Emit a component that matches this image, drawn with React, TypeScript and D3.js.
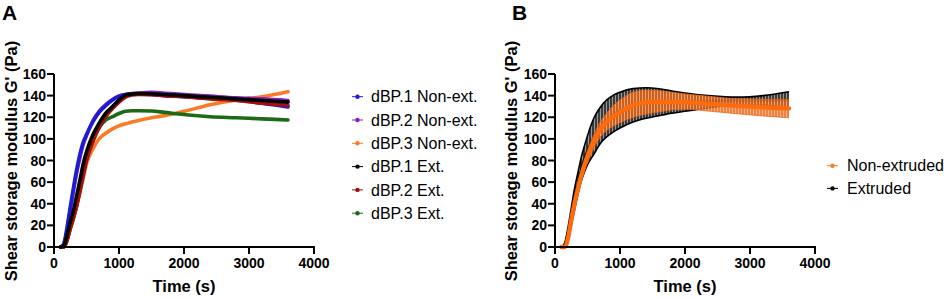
import React from "react";
import * as d3 from "d3";

// ---------- Panel A data ----------
const tA = [100, 150, 200, 250, 300, 350, 400, 450, 500, 600, 700, 800, 900, 1000, 1100, 1200, 1300, 1500, 1700, 2000, 2400, 2800, 3200, 3600];
const dbp1Non = [0, 3, 18, 37, 55, 72, 86, 97, 104, 116, 125, 131, 136, 139.5, 141, 141.5, 141.5, 141, 140, 139, 137.5, 136, 133, 129.5];
const dbp2Non = [0, 2, 15, 34, 52, 69, 83, 95, 103, 117, 126, 132, 136.5, 139.5, 141, 142, 142.5, 143, 142.2, 141, 139.5, 138, 137, 135.5];
const dbp3Non = [0, 0, 6, 17, 27, 38, 51, 64, 77, 91, 100.5, 105.5, 109.3, 112, 114, 115.5, 117, 119.5, 121.5, 125.5, 131.5, 136, 139, 143.6];
const dbp1Ext = [0, 1, 11, 23, 34, 48, 62, 77, 88, 104, 115, 124, 130, 136, 140.5, 141.5, 142, 141.8, 141, 140, 138.5, 137, 135.5, 134];
const dbp2Ext = [0, 0, 6, 17, 27, 38, 52, 66, 80, 98, 111, 121, 128, 134, 138.5, 140.5, 141, 140.8, 140, 139, 137, 135.5, 133, 131];
const dbp3Ext = [0, 0, 6, 17, 27, 39, 53, 68, 81, 98, 111, 117.5, 120.5, 123.5, 125.5, 126, 126, 125.8, 124.5, 122.5, 120.5, 119.5, 118.5, 117.5];

const seriesA = [
  { name: "dBP.1 Non-ext.", values: dbp1Non, color: "#1c1cd6" },
  { name: "dBP.2 Non-ext.", values: dbp2Non, color: "#8420c0" },
  { name: "dBP.3 Non-ext.", values: dbp3Non, color: "#fb7a26" },
  { name: "dBP.1 Ext.", values: dbp1Ext, color: "#000000" },
  { name: "dBP.2 Ext.", values: dbp2Ext, color: "#a50f0f" },
  { name: "dBP.3 Ext.", values: dbp3Ext, color: "#1d6a16" },
];
const drawOrderA = [2, 5, 1, 0, 4, 3];

// ---------- Panel B data ----------
const tB = [100, 150, 200, 250, 300, 350, 400, 450, 500, 600, 700, 800, 900, 1000, 1200, 1400, 1600, 1800, 2000, 2400, 2800, 3200, 3600];
const darkMean = [0, 2, 12, 28, 44, 58, 71, 81, 89, 102, 112, 118, 123, 126.5, 131, 133, 134, 134.4, 134.4, 135, 135.5, 135.5, 136];
const darkUpper = [0, 4, 18, 36, 54, 68, 82, 93, 103, 119.5, 129.5, 136.3, 140.5, 143.2, 146.5, 147.3, 146.4, 144.3, 142.5, 139.8, 138.6, 140, 143.6];
const darkLower = [0, 0, 6, 20, 34, 48, 60, 69, 76, 86, 96, 102, 106.5, 110, 115.5, 119, 121.5, 123.8, 125.5, 129, 131.5, 131, 128.5];
const orangeMean = [0, 0, 8, 25, 40, 53, 65, 75, 83.5, 98, 109, 116, 121, 125, 131, 133.8, 134.4, 134.2, 134, 132.2, 130.5, 129.2, 128.2];
const orangeUpper = [0, 0, 10, 28, 44, 58, 70, 80, 89, 104, 116, 124, 131, 136, 143, 145, 144.5, 143, 141.5, 139.2, 137, 136.6, 136.6];
const orangeLower = [0, 0, 6, 22, 36, 48, 60, 70, 78, 92, 102, 108, 112, 115, 120, 123, 125, 127, 127.5, 125.5, 123.3, 121.2, 119.5];

const legendB = [
  { name: "Non-extruded", color: "#fb7a26" },
  { name: "Extruded", color: "#000000" },
];

const xTicks = [0, 1000, 2000, 3000, 4000];
const yTicks = [0, 20, 40, 60, 80, 100, 120, 140, 160];

const FONT = "'Liberation Sans', Arial, sans-serif";

function Axes({ x, y, ox }: { x: d3.ScaleLinear<number, number>; y: d3.ScaleLinear<number, number>; ox: number }) {
  const x0 = x(0);
  const y0 = y(0);
  return (
    <g fontFamily={FONT} fontWeight="bold" fill="#000">
      <line x1={x0} x2={x0} y1={y(160)} y2={y0 + 1} stroke="#000" strokeWidth={2} />
      <line x1={x0 - 1} x2={x(4000) + 1} y1={y0} y2={y0} stroke="#000" strokeWidth={2} />
      {yTicks.map((v) => (
        <g key={"y" + v}>
          <line x1={x0 - 7} x2={x0} y1={y(v)} y2={y(v)} stroke="#000" strokeWidth={2} />
          <text x={x0 - 8} y={y(v)} dy="0.36em" textAnchor="end" fontSize={14}>{v}</text>
        </g>
      ))}
      {xTicks.map((v) => (
        <g key={"x" + v}>
          <line x1={x(v)} x2={x(v)} y1={y0} y2={y0 + 7} stroke="#000" strokeWidth={2} />
          <text x={x(v)} y={y0 + 21} textAnchor="middle" fontSize={14}>{v}</text>
        </g>
      ))}
      <text x={(x0 + x(4000)) / 2} y={292} textAnchor="middle" fontSize={16.5}>Time (s)</text>
      <text transform={`translate(${ox},161) rotate(-90)`} textAnchor="middle" dy="0.36em" fontSize={16.5}>
        Shear storage modulus G' (Pa)
      </text>
    </g>
  );
}

export default function App() {
  const xA = d3.scaleLinear().domain([0, 4000]).range([54, 314]);
  const yS = d3.scaleLinear().domain([0, 160]).range([247, 74]);
  const xB = d3.scaleLinear().domain([0, 4000]).range([555, 815]);

  const lineA = (vals: number[]) =>
    d3.line<number>().x((_, i) => xA(tA[i])).y((d) => yS(d)).curve(d3.curveMonotoneX)(vals) || "";
  const lineB = (vals: number[]) =>
    d3.line<number>().x((_, i) => xB(tB[i])).y((d) => yS(d)).curve(d3.curveMonotoneX)(vals) || "";
  const areaB = (lo: number[], hi: number[]) =>
    d3
      .area<number>()
      .x((_, i) => xB(tB[i]))
      .y0((_, i) => yS(lo[i]))
      .y1((_, i) => yS(hi[i]))
      .curve(d3.curveMonotoneX)(tB) || "";

  return (
    <svg width={948} height={298} style={{ position: "absolute", left: 0, top: 0, background: "#fff" }}>
      <defs>
        <pattern id="hatchDark" width={3} height={4} patternUnits="userSpaceOnUse">
          <rect width={3} height={4} fill="#3a3a3a" />
          <rect x={0} width={1} height={4} fill="#999" />
        </pattern>
        <pattern id="hatchOrange" width={3} height={4} patternUnits="userSpaceOnUse">
          <rect width={3} height={4} fill="#ec6618" />
          <rect x={0} width={1} height={4} fill="#f7a66e" />
        </pattern>
      </defs>
      <rect width={948} height={298} fill="#fff" />

      {/* Panel letters */}
      <text x={2} y={19.5} fontFamily={FONT} fontWeight="bold" fontSize={21}>A</text>
      <text x={512} y={19.5} fontFamily={FONT} fontWeight="bold" fontSize={21}>B</text>

      {/* Panel A */}
      <g>
        {drawOrderA.map((k) => (
          <path
            key={k}
            d={lineA(seriesA[k].values)}
            fill="none"
            stroke={seriesA[k].color}
            strokeWidth={3.6}
            strokeLinejoin="round"
            strokeLinecap="round"
          />
        ))}
      </g>
      <Axes x={xA} y={yS} ox={11} />
      <g fontFamily={FONT} fontSize={16}>
        {seriesA.map((s, i) => {
          const cy = 96.7 + i * 23.3;
          return (
            <g key={s.name}>
              <line x1={352} x2={363} y1={cy} y2={cy} stroke={s.color} strokeWidth={1} />
              <circle cx={357.5} cy={cy} r={2.2} fill={s.color} />
              <text x={371} y={cy} dy="0.36em">{s.name}</text>
            </g>
          );
        })}
      </g>

      {/* Panel B */}
      <g>
        <path d={areaB(darkLower, darkUpper)} fill="url(#hatchDark)" />
        <path d={lineB(darkUpper)} fill="none" stroke="#000" strokeWidth={1.6} />
        <path d={lineB(darkLower)} fill="none" stroke="#000" strokeWidth={1.6} />
        <path d={lineB(darkMean)} fill="none" stroke="#111" strokeWidth={2.5} />
        <path d={areaB(orangeLower, orangeUpper)} fill="url(#hatchOrange)" opacity={0.82} />
        <path d={lineB(orangeUpper)} fill="none" stroke="#ec6618" strokeWidth={1} opacity={0.8} />
        <path d={lineB(orangeLower)} fill="none" stroke="#ec6618" strokeWidth={1} opacity={0.8} />
        <path d={lineB(orangeMean)} fill="none" stroke="#ff6a0a" strokeWidth={4.4} strokeLinecap="round" />
      </g>
      <Axes x={xB} y={yS} ox={511} />
      <g fontFamily={FONT} fontSize={16}>
        {legendB.map((s, i) => {
          const cy = 165.7 + i * 22.7;
          return (
            <g key={s.name}>
              <line x1={827} x2={838} y1={cy} y2={cy} stroke={s.color} strokeWidth={1} />
              <circle cx={832.5} cy={cy} r={2.2} fill={s.color} />
              <text x={847} y={cy} dy="0.36em">{s.name}</text>
            </g>
          );
        })}
      </g>
    </svg>
  );
}
